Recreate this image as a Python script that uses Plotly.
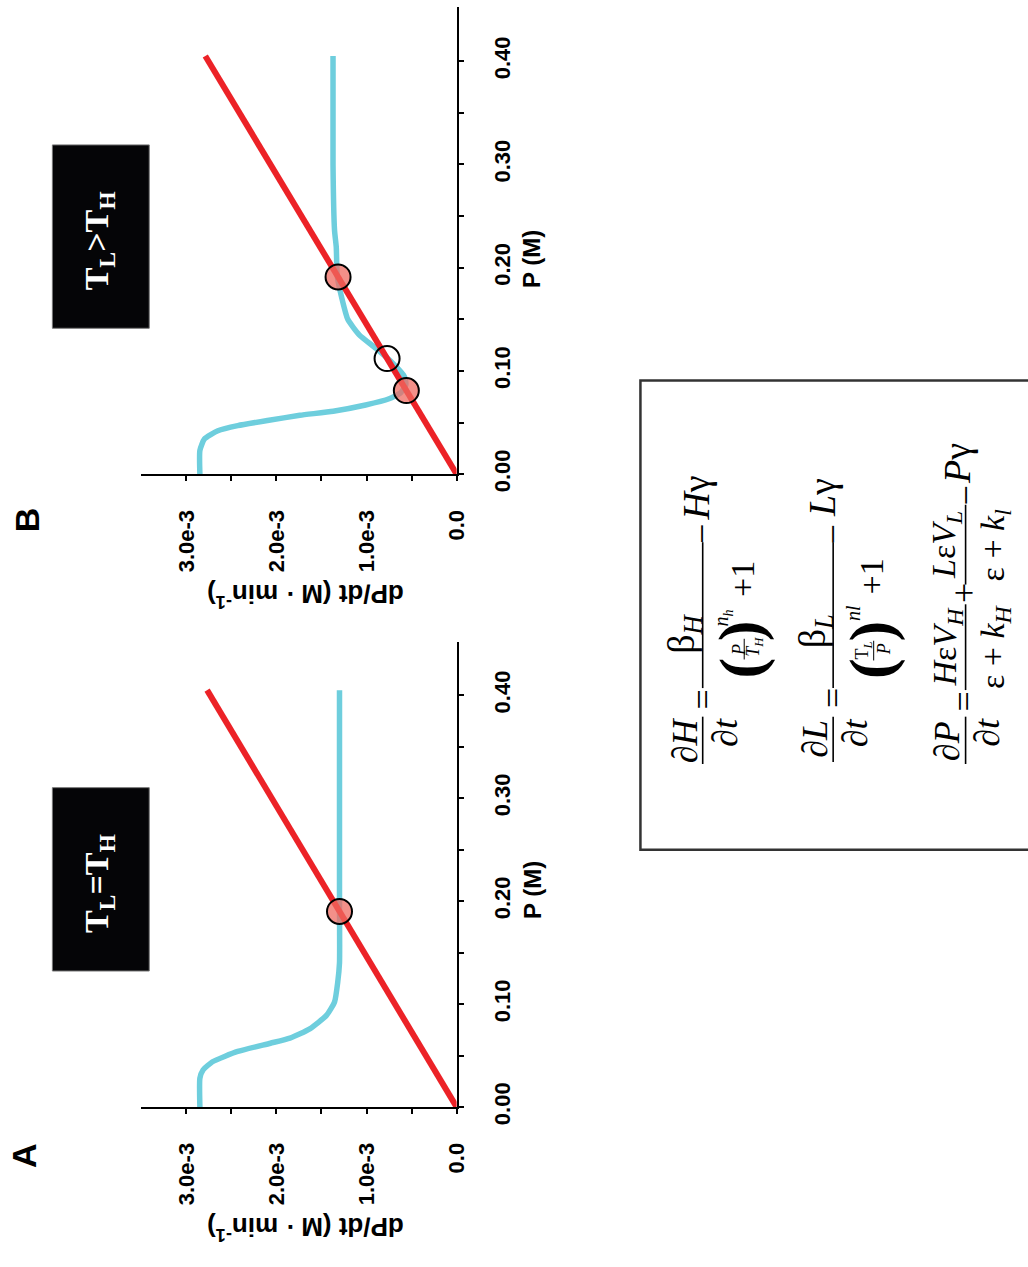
import plotly.graph_objects as go

W, H = 1028, 1267
SANS = "Liberation Sans, Arial, sans-serif"
SERIF = "Liberation Serif, Times New Roman, serif"

# ---- data: P (M) against dP/dt (M/min) ----
# panel A: T_L = T_H, production curve
p_a = [0.000, 0.028, 0.036, 0.044, 0.054, 0.062, 0.067, 0.076, 0.089, 0.102, 0.121, 0.140, 0.200, 0.300, 0.405]
rate_a = [2.85e-3, 2.85e-3, 2.815e-3, 2.71e-3, 2.43e-3, 2.067e-3, 1.85e-3, 1.63e-3, 1.445e-3,
          1.355e-3, 1.32e-3, 1.30e-3, 1.30e-3, 1.30e-3, 1.30e-3]
# panel B: T_L > T_H, production curve
p_b = [0.000, 0.023, 0.034, 0.042, 0.047, 0.052, 0.057, 0.061, 0.067, 0.073, 0.079, 0.086,
       0.092, 0.096, 0.108, 0.122, 0.135, 0.150, 0.173, 0.192, 0.220, 0.236, 0.300, 0.405]
rate_b = [2.85e-3, 2.85e-3, 2.80e-3, 2.65e-3, 2.43e-3, 2.10e-3, 1.74e-3, 1.37e-3, 1.01e-3,
          0.75e-3, 0.62e-3, 0.565e-3, 0.57e-3, 0.59e-3, 0.715e-3, 0.898e-3, 1.081e-3, 1.208e-3,
          1.281e-3, 1.325e-3, 1.336e-3, 1.355e-3, 1.372e-3, 1.372e-3]
# degradation (P*gamma)
p_deg = [0.0, 0.405]
rate_deg_a = [0.0, 2.77e-3]
rate_deg_b = [0.0, 2.79e-3]
# steady states
fp_a_p = [0.190]
fp_a_rate = [1.30e-3]
fp_b_stable_p = [0.081, 0.191]
fp_b_stable_rate = [0.558e-3, 1.316e-3]
fp_b_unstable_p = [0.112]
fp_b_unstable_rate = [0.772e-3]

# ticks (labelled majors, unlabelled minors in between)
rate_ticks = [0.0, 1.0e-3, 2.0e-3, 3.0e-3]
rate_labels = ["0.0", "1.0e-3", "2.0e-3", "3.0e-3"]
rate_minor = [0.5e-3, 1.5e-3, 2.5e-3]
p_ticks = [0.0, 0.10, 0.20, 0.30, 0.40]
p_labels = ["0.00", "0.10", "0.20", "0.30", "0.40"]
p_minor = [0.05, 0.15, 0.25, 0.35]

BLUE = "#6ECEDD"
RED = "#EC2227"
FILL = "rgba(239,107,98,0.75)"


def fx(x):
    return x / W


def fy(y):
    return 1 - y / H


fig = go.Figure()

panels = [
    ("x", "y", p_a, rate_a, rate_deg_a, [(fp_a_p, fp_a_rate, FILL)]),
    ("x2", "y2", p_b, rate_b, rate_deg_b,
     [(fp_b_stable_p, fp_b_stable_rate, FILL), (fp_b_unstable_p, fp_b_unstable_rate, "rgba(0,0,0,0)")]),
]
for xa, ya, pp, rr, rdeg, fps in panels:
    fig.add_trace(go.Scatter(x=rr, y=pp, xaxis=xa, yaxis=ya, mode="lines",
                             line=dict(color=BLUE, width=5.5, shape="spline", smoothing=0.5),
                             hoverinfo="skip"))
    fig.add_trace(go.Scatter(x=rdeg, y=p_deg, xaxis=xa, yaxis=ya, mode="lines",
                             line=dict(color=RED, width=6), hoverinfo="skip"))
    for fpp, fpr, col in fps:
        fig.add_trace(go.Scatter(x=fpr, y=fpp, xaxis=xa, yaxis=ya, mode="markers",
                                 marker=dict(size=25, color=col, line=dict(color="black", width=2)),
                                 hoverinfo="skip"))

tickfont = dict(family=SANS, size=22, color="black", weight="bold")
axis_common = dict(showline=True, linecolor="black", linewidth=2, ticks="outside", ticklen=5,
                   tickwidth=2, tickcolor="black", showgrid=False, zeroline=False,
                   tickangle=-90, tickfont=tickfont, ticklabelstandoff=20, tickmode="array")
minor_style = dict(ticks="outside", ticklen=5, tickwidth=2, tickcolor="black", showgrid=False)

xdom = [fx(143), fx(462)]
fig.update_layout(
    xaxis=dict(domain=xdom, range=[3.5e-3, 0], anchor="y", tickvals=rate_ticks, ticktext=rate_labels,
               minor=dict(tickvals=rate_minor, **minor_style), **axis_common),
    yaxis=dict(domain=[fy(1123), fy(651)], range=[0, 0.452], anchor="x", side="right",
               tickvals=p_ticks, ticktext=p_labels,
               minor=dict(tickvals=p_minor, **minor_style), **axis_common),
    xaxis2=dict(domain=xdom, range=[3.5e-3, 0], anchor="y2", tickvals=rate_ticks, ticktext=rate_labels,
                minor=dict(tickvals=rate_minor, **minor_style), **axis_common),
    yaxis2=dict(domain=[fy(481), fy(7)], range=[0, 0.4526], anchor="x2", side="right",
                tickvals=p_ticks, ticktext=p_labels,
                minor=dict(tickvals=p_minor, **minor_style), **axis_common),
)

annotations = []
shapes = []


def label(x, y, text, size, angle=-90, family=SERIF, color="black", weight="normal"):
    annotations.append(dict(x=fx(x), y=fy(y), xref="paper", yref="paper", text=text,
                            showarrow=False, textangle=angle, xanchor="center", yanchor="middle",
                            font=dict(family=family, size=size, color=color, weight=weight)))


def vbar(x, y0, y1, width=1.6):
    shapes.append(dict(type="line", xref="paper", yref="paper", x0=fx(x), x1=fx(x),
                       y0=fy(y0), y1=fy(y1), line=dict(color="black", width=width)))


# panel letters and axis titles
label(25, 1172, "A", 34, family=SANS, weight="bold")
label(27, 527, "B", 34, family=SANS, weight="bold")
for ax_y, title_y in [(903, 1246), (263, 604)]:
    label(538, ax_y, "P (M)", 24, family=SANS, weight="bold")
    label(309, title_y, "dP/dt (M · min<sup>-1</sup>)", 26, angle=180, family=SANS, weight="bold")

# threshold condition boxes
for y0, y1, txt in [(799, 985, "T<sub>L</sub>=T<sub>H</sub>"), (147, 333, "T<sub>L</sub>&gt;T<sub>H</sub>")]:
    shapes.append(dict(type="rect", xref="paper", yref="paper", x0=fx(53), x1=fx(151),
                       y0=fy(y1), y1=fy(y0), fillcolor="#050507", line=dict(color="#777", width=1)))
    label(100, (y0 + y1) / 2 + 4, txt, 34, color="white", weight="bold")

# model equations
shapes.append(dict(type="rect", xref="paper", yref="paper", x0=fx(648), x1=fx(1060),
                   y0=fy(862), y1=fy(386), line=dict(color="#333", width=2.5)))
F = 36
# dH/dt
label(693, 751, "∂<i>H</i>", F)
vbar(711, 727, 775)
label(734, 743, "∂<i>t</i>", F)
label(711, 710, "=", F)
vbar(711, 550, 698)
label(692, 643, "β<sub><i>H</i></sub>", 38)
label(750, 678, "(", 62, weight="bold")
label(750, 640, ")", 62, weight="bold")
label(747, 659, "<i>P</i>", 18)
vbar(753, 648, 669, 1)
label(764, 656, "<i>T</i><sub><i>H</i></sub>", 18)
label(731, 627, "<i>n<sub>h</sub></i>", 20)
label(751, 587, "+1", 34)
label(711, 542, "−", F)
label(704, 505, "<i>H</i>γ", 38)
# dL/dt
label(825, 749, "∂<i>L</i>", F)
vbar(843, 727, 773)
label(866, 743, "∂<i>t</i>", F)
label(843, 708, "=", F)
vbar(843, 550, 698)
label(825, 640, "β<sub><i>L</i></sub>", 38)
label(882, 678, "(", 62, weight="bold")
label(882, 640, ")", 62, weight="bold")
label(874, 660, "T<sub><i>L</i></sub>", 18)
vbar(884, 650, 670, 1)
label(894, 659, "<i>P</i>", 18)
label(863, 622, "<i>nl</i>", 20)
label(882, 585, "+1", 34)
label(843, 542, "−", F)
label(832, 505, "<i>L</i>γ", 38)
# dP/dt
label(958, 752, "∂<i>P</i>", F)
vbar(977, 727, 775)
label(999, 743, "∂<i>t</i>", F)
label(975, 712, "=", F)
vbar(977, 613, 700)
label(958, 656, "<i>H</i>ε<i>V</i><sub><i>H</i></sub>", 34)
label(1006, 656, "ε + <i>k</i><sub><i>H</i></sub>", 34)
label(976, 602, "+", F)
vbar(977, 512, 593)
label(957, 553, "<i>L</i>ε<i>V</i><sub><i>L</i></sub>", 34)
label(1007, 553, "ε + <i>k</i><sub><i>l</i></sub>", 34)
label(977, 503, "−", F)
label(969, 470, "<i>P</i>γ", 38)

fig.update_layout(
    width=W, height=H, autosize=False,
    margin=dict(l=0, r=0, t=0, b=0),
    paper_bgcolor="white", plot_bgcolor="white",
    showlegend=False,
    annotations=annotations, shapes=shapes,
)

fig.write_html("out.html")
